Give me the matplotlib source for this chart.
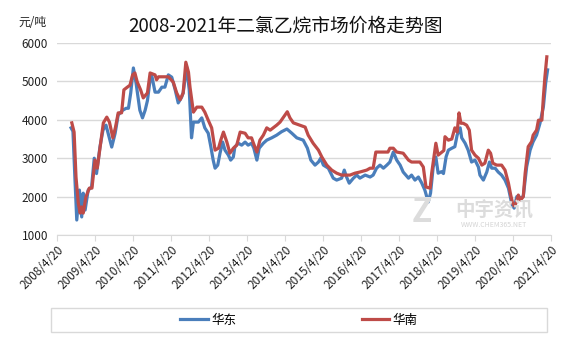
import matplotlib
matplotlib.use('Agg')
import matplotlib.pyplot as plt
from matplotlib.patches import Rectangle

plt.rcParams['font.family'] = ['Noto Sans CJK SC', 'DejaVu Sans']

# decimal year of each reading, price in yuan/ton
east_year = [2008.67, 2008.72, 2008.77, 2008.82, 2008.89, 2008.95, 2008.99, 2009.04, 2009.12, 2009.21,
             2009.28, 2009.34, 2009.43, 2009.51, 2009.59, 2009.67, 2009.74, 2009.83, 2009.91, 2010.03,
             2010.12, 2010.18, 2010.24, 2010.31, 2010.38, 2010.48, 2010.55, 2010.62, 2010.68, 2010.75,
             2010.79, 2010.88, 2010.97, 2011.06, 2011.14, 2011.23, 2011.32, 2011.41, 2011.49, 2011.58,
             2011.62, 2011.71, 2011.78, 2011.84, 2011.89, 2012.02, 2012.11, 2012.19, 2012.28, 2012.35,
             2012.41, 2012.46, 2012.53, 2012.59, 2012.66, 2012.72, 2012.81, 2012.87, 2012.94, 2012.98,
             2013.07, 2013.16, 2013.25, 2013.33, 2013.42, 2013.48, 2013.56, 2013.62, 2013.73, 2013.82,
             2013.95, 2014.08, 2014.21, 2014.35, 2014.48, 2014.61, 2014.78, 2014.89, 2014.98, 2015.09,
             2015.18, 2015.24, 2015.31, 2015.44, 2015.57, 2015.66, 2015.79, 2015.86, 2015.92, 2015.99,
             2016.10, 2016.19, 2016.27, 2016.41, 2016.54, 2016.62, 2016.71, 2016.80, 2016.89, 2016.98,
             2017.06, 2017.15, 2017.24, 2017.33, 2017.41, 2017.55, 2017.63, 2017.72, 2017.81, 2017.90,
             2017.98, 2018.07, 2018.13, 2018.20, 2018.27, 2018.33, 2018.42, 2018.47, 2018.54, 2018.60,
             2018.69, 2018.77, 2018.83, 2018.91, 2018.95, 2019.04, 2019.12, 2019.21, 2019.30, 2019.39,
             2019.43, 2019.52, 2019.61, 2019.68, 2019.74, 2019.83, 2019.91, 2020.00, 2020.09, 2020.18,
             2020.27, 2020.33, 2020.40, 2020.48, 2020.57, 2020.66, 2020.75, 2020.83, 2020.92, 2021.01,
             2021.10, 2021.16, 2021.21]
east_price = [3790, 3700, 2510, 1390, 2170, 1470, 2090, 1650, 2170, 2250,
              3000, 2600, 3290, 3730, 3860, 3550, 3290, 3650, 4125, 4250,
              4300, 4300, 4700, 5350, 4960, 4250, 4050, 4250, 4500, 5040,
              5170, 4720, 4720, 4850, 4850, 5170, 5110, 4780, 4440, 4590,
              4700, 5380, 4780, 3530, 3940, 3940, 4050, 3790, 3650, 3290,
              2950, 2740, 2820, 3130, 3420, 3210, 3080, 2950, 3030, 3290,
              3390, 3340, 3420, 3340, 3390, 3260, 2950, 3260, 3390, 3470,
              3530, 3600, 3690, 3760, 3650, 3530, 3470, 3260, 2950, 2820,
              2900, 3000, 2820, 2740, 2480, 2430, 2480, 2690, 2510, 2350,
              2480, 2560, 2480, 2560, 2510, 2560, 2740, 2820, 2740, 2820,
              2900, 3160, 2950, 2820, 2640, 2480, 2560, 2430, 2510, 2350,
              2170, 1860, 2090, 2770, 3030, 2610, 2650, 2600, 3040, 3210,
              3260, 3300, 3600, 3790, 3530, 3390, 3210, 2900, 2950, 2770,
              2560, 2430, 2640, 2900, 2740, 2740, 2640, 2560, 2430, 2220,
              1800, 1700, 2000, 1960, 2000, 2780, 3210, 3430, 3600, 3910,
              4340, 4960, 5300]

south_year = [2008.69, 2008.75, 2008.80, 2008.86, 2008.91, 2008.95, 2008.99, 2009.06, 2009.15, 2009.22,
              2009.30, 2009.36, 2009.45, 2009.52, 2009.61, 2009.68, 2009.77, 2009.84, 2009.91, 2010.00,
              2010.06, 2010.15, 2010.22, 2010.29, 2010.35, 2010.41, 2010.50, 2010.57, 2010.68, 2010.75,
              2010.88, 2010.92, 2010.97, 2011.23, 2011.36, 2011.45, 2011.54, 2011.62, 2011.69, 2011.76,
              2011.80, 2011.89, 2011.98, 2012.11, 2012.19, 2012.28, 2012.37, 2012.46, 2012.55, 2012.61,
              2012.68, 2012.77, 2012.85, 2012.94, 2013.03, 2013.12, 2013.25, 2013.33, 2013.42, 2013.47,
              2013.56, 2013.64, 2013.73, 2013.82, 2013.91, 2013.99, 2014.08, 2014.17, 2014.26, 2014.36,
              2014.43, 2014.52, 2014.69, 2014.83, 2014.91, 2015.04, 2015.18, 2015.27, 2015.40, 2015.53,
              2015.66, 2015.79, 2016.01, 2016.14, 2016.27, 2016.45, 2016.54, 2016.62, 2016.69, 2016.89,
              2017.01, 2017.06, 2017.15, 2017.24, 2017.41, 2017.55, 2017.63, 2017.85, 2017.94, 2018.01,
              2018.12, 2018.16, 2018.22, 2018.27, 2018.33, 2018.48, 2018.51, 2018.60, 2018.69, 2018.77,
              2018.83, 2018.88, 2018.93, 2018.99, 2019.08, 2019.15, 2019.21, 2019.30, 2019.39, 2019.48,
              2019.56, 2019.65, 2019.71, 2019.77, 2019.87, 2020.00, 2020.09, 2020.18, 2020.24, 2020.29,
              2020.33, 2020.38, 2020.44, 2020.50, 2020.57, 2020.62, 2020.66, 2020.70, 2020.79, 2020.83,
              2020.92, 2020.97, 2021.06, 2021.10, 2021.14, 2021.19]
south_price = [3920, 3680, 2510, 1830, 1570, 1730, 1570, 1990, 2220, 2220,
               2950, 2740, 3400, 3920, 4070, 3940, 3530, 3810, 4180, 4180,
               4780, 4850, 4900, 5170, 5220, 4990, 4780, 4570, 4700, 5220,
               5170, 5040, 5120, 5120, 4980, 4700, 4520, 4700, 5500, 5240,
               4850, 4200, 4330, 4330, 4200, 3990, 3790, 3210, 3260, 3470,
               3680, 3420, 3130, 3260, 3340, 3680, 3650, 3530, 3530, 3390,
               3160, 3470, 3600, 3790, 3730, 3790, 3860, 3940, 4070, 4210,
               4050, 3920, 3860, 3810, 3600, 3390, 3210, 3030, 2820, 2690,
               2610, 2560, 2560, 2610, 2640, 2690, 2740, 2740, 3160, 3160,
               3160, 3260, 3260, 3160, 3130, 2950, 2900, 2900, 2770, 2250,
               2220, 2610, 3030, 3390, 3080, 3200, 3560, 3470, 3500, 3790,
               3680, 4180, 3910, 3910, 3860, 3730, 3210, 3080, 3000, 2820,
               2870, 3210, 3130, 2870, 2820, 2820, 2690, 2350, 2040, 1830,
               1760, 1830, 2040, 1910, 2000, 2610, 2950, 3300, 3430, 3600,
               3730, 3990, 3990, 4600, 5120, 5640]

tick_years = list(range(2008, 2022))
tick_labels = [f'{y}/4/20' for y in tick_years]

fig = plt.figure(figsize=(5.67, 3.40), dpi=100)
ax = fig.add_axes([57 / 567, 1 - 235 / 340, 494 / 567, 192 / 340])

ax.plot(east_year, east_price, color='#4A7EBB', lw=2.3, label='华东', zorder=3)
ax.plot(south_year, south_price, color='#BE4B48', lw=2.3, label='华南', zorder=4)

ax.set_ylim(1000, 6000)
ax.set_yticks([1000, 2000, 3000, 4000, 5000, 6000])
ax.set_xlim(2008.30, 2021.30)
ax.set_xticks([y + 0.30 for y in tick_years])
ax.set_xticklabels(tick_labels, rotation=45, ha='right', va='top', rotation_mode='anchor')
ax.tick_params(axis='x', length=4, color='#d9d9d9', labelsize=8.5, pad=2, labelcolor='#222222')
ax.tick_params(axis='y', length=0, labelsize=8.5, pad=6.5, labelcolor='#222222')
ax.grid(axis='y', color='#d9d9d9', lw=1)
ax.set_axisbelow(True)
for s in ['top', 'right', 'left']:
    ax.spines[s].set_visible(False)
ax.spines['bottom'].set_color('#d9d9d9')

# watermark
fig.text(422 / 567, 1 - 213 / 340, 'Z', fontsize=24, fontweight='bold', color='#dcdcdc',
         ha='center', va='center', zorder=1)
fig.text(494 / 567, 1 - 210 / 340, '中宇资讯', fontsize=14, fontweight='bold', color='#dcdcdc',
         ha='center', va='center', zorder=1)
fig.text(494 / 567, 1 - 225 / 340, 'WWW.CHEM365.NET', fontsize=5, color='#d4d4d4',
         ha='center', va='center', zorder=1)

fig.text(285 / 567, 1 - 26 / 340, '2008-2021年二氯乙烷市场价格走势图', fontsize=13.5,
         ha='center', va='center', color='#111111')
fig.text(32 / 567, 1 - 22 / 340, '元/吨', fontsize=8.5, ha='center', va='center', color='#222222')

fig.patches.append(Rectangle((51 / 567, 1 - 332 / 340), 496 / 567, 24 / 340,
                             transform=fig.transFigure, fill=False, edgecolor='#d9d9d9', lw=1))
fig.legend(loc='center', bbox_to_anchor=(299 / 567, 1 - 320 / 340), ncol=2, frameon=False,
           fontsize=9, handlelength=2.2, columnspacing=10, handletextpad=0.3)

fig.savefig('out.png', dpi=100)
